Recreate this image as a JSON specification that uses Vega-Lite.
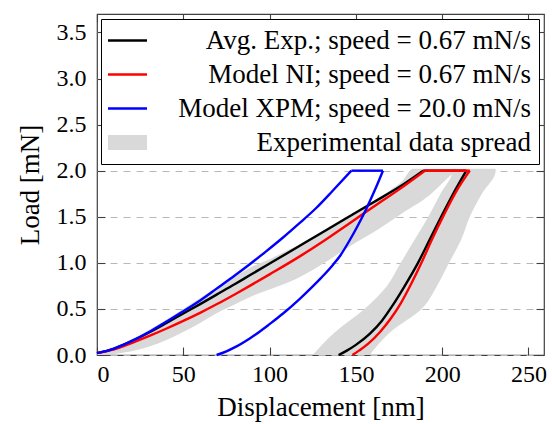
{
  "$schema": "https://vega.github.io/schema/vega-lite/v6.json",
  "width": 447,
  "height": 341,
  "autosize": {"type": "none"},
  "padding": {"left": 97, "top": 14, "right": 8, "bottom": 69},
  "background": "#ffffff",
  "datasets": {
    "lines": [
      {"s": "Avg. Exp.; speed = 0.67 mN/s", "seg": "load", "x": 0, "y": 0.02},
      {"s": "Avg. Exp.; speed = 0.67 mN/s", "seg": "load", "x": 10, "y": 0.07},
      {"s": "Avg. Exp.; speed = 0.67 mN/s", "seg": "load", "x": 20, "y": 0.15},
      {"s": "Avg. Exp.; speed = 0.67 mN/s", "seg": "load", "x": 30.7, "y": 0.25},
      {"s": "Avg. Exp.; speed = 0.67 mN/s", "seg": "load", "x": 40, "y": 0.345},
      {"s": "Avg. Exp.; speed = 0.67 mN/s", "seg": "load", "x": 50, "y": 0.45},
      {"s": "Avg. Exp.; speed = 0.67 mN/s", "seg": "load", "x": 60, "y": 0.555},
      {"s": "Avg. Exp.; speed = 0.67 mN/s", "seg": "load", "x": 69.3, "y": 0.655},
      {"s": "Avg. Exp.; speed = 0.67 mN/s", "seg": "load", "x": 80, "y": 0.77},
      {"s": "Avg. Exp.; speed = 0.67 mN/s", "seg": "load", "x": 88.5, "y": 0.865},
      {"s": "Avg. Exp.; speed = 0.67 mN/s", "seg": "load", "x": 103, "y": 1.025},
      {"s": "Avg. Exp.; speed = 0.67 mN/s", "seg": "load", "x": 117.5, "y": 1.185},
      {"s": "Avg. Exp.; speed = 0.67 mN/s", "seg": "load", "x": 132, "y": 1.345},
      {"s": "Avg. Exp.; speed = 0.67 mN/s", "seg": "load", "x": 146.4, "y": 1.505},
      {"s": "Avg. Exp.; speed = 0.67 mN/s", "seg": "load", "x": 160, "y": 1.655},
      {"s": "Avg. Exp.; speed = 0.67 mN/s", "seg": "load", "x": 175.3, "y": 1.825},
      {"s": "Avg. Exp.; speed = 0.67 mN/s", "seg": "load", "x": 189, "y": 2.0},
      {"s": "Avg. Exp.; speed = 0.67 mN/s", "seg": "top", "x": 189, "y": 2.0},
      {"s": "Avg. Exp.; speed = 0.67 mN/s", "seg": "top", "x": 214, "y": 2.0},
      {"s": "Avg. Exp.; speed = 0.67 mN/s", "seg": "unload", "x": 214, "y": 2.0},
      {"s": "Avg. Exp.; speed = 0.67 mN/s", "seg": "unload", "x": 207, "y": 1.77},
      {"s": "Avg. Exp.; speed = 0.67 mN/s", "seg": "unload", "x": 200, "y": 1.52},
      {"s": "Avg. Exp.; speed = 0.67 mN/s", "seg": "unload", "x": 193, "y": 1.26},
      {"s": "Avg. Exp.; speed = 0.67 mN/s", "seg": "unload", "x": 186, "y": 1.0},
      {"s": "Avg. Exp.; speed = 0.67 mN/s", "seg": "unload", "x": 178, "y": 0.74},
      {"s": "Avg. Exp.; speed = 0.67 mN/s", "seg": "unload", "x": 171, "y": 0.53},
      {"s": "Avg. Exp.; speed = 0.67 mN/s", "seg": "unload", "x": 165, "y": 0.37},
      {"s": "Avg. Exp.; speed = 0.67 mN/s", "seg": "unload", "x": 158, "y": 0.23},
      {"s": "Avg. Exp.; speed = 0.67 mN/s", "seg": "unload", "x": 150, "y": 0.11},
      {"s": "Avg. Exp.; speed = 0.67 mN/s", "seg": "unload", "x": 145, "y": 0.05},
      {"s": "Avg. Exp.; speed = 0.67 mN/s", "seg": "unload", "x": 140, "y": 0.0},
      {"s": "Model NI; speed = 0.67 mN/s", "seg": "load", "x": 0, "y": 0.02},
      {"s": "Model NI; speed = 0.67 mN/s", "seg": "load", "x": 10, "y": 0.06},
      {"s": "Model NI; speed = 0.67 mN/s", "seg": "load", "x": 20, "y": 0.13},
      {"s": "Model NI; speed = 0.67 mN/s", "seg": "load", "x": 30.7, "y": 0.21},
      {"s": "Model NI; speed = 0.67 mN/s", "seg": "load", "x": 40, "y": 0.285},
      {"s": "Model NI; speed = 0.67 mN/s", "seg": "load", "x": 50, "y": 0.37},
      {"s": "Model NI; speed = 0.67 mN/s", "seg": "load", "x": 60, "y": 0.46},
      {"s": "Model NI; speed = 0.67 mN/s", "seg": "load", "x": 69.3, "y": 0.55},
      {"s": "Model NI; speed = 0.67 mN/s", "seg": "load", "x": 80, "y": 0.66},
      {"s": "Model NI; speed = 0.67 mN/s", "seg": "load", "x": 88.5, "y": 0.75},
      {"s": "Model NI; speed = 0.67 mN/s", "seg": "load", "x": 100, "y": 0.875},
      {"s": "Model NI; speed = 0.67 mN/s", "seg": "load", "x": 117.5, "y": 1.07},
      {"s": "Model NI; speed = 0.67 mN/s", "seg": "load", "x": 132, "y": 1.245},
      {"s": "Model NI; speed = 0.67 mN/s", "seg": "load", "x": 146.4, "y": 1.43},
      {"s": "Model NI; speed = 0.67 mN/s", "seg": "load", "x": 160, "y": 1.605},
      {"s": "Model NI; speed = 0.67 mN/s", "seg": "load", "x": 175.3, "y": 1.8},
      {"s": "Model NI; speed = 0.67 mN/s", "seg": "load", "x": 190, "y": 2.0},
      {"s": "Model NI; speed = 0.67 mN/s", "seg": "top", "x": 190, "y": 2.0},
      {"s": "Model NI; speed = 0.67 mN/s", "seg": "top", "x": 216, "y": 2.0},
      {"s": "Model NI; speed = 0.67 mN/s", "seg": "unload", "x": 216, "y": 2.0},
      {"s": "Model NI; speed = 0.67 mN/s", "seg": "unload", "x": 208, "y": 1.77},
      {"s": "Model NI; speed = 0.67 mN/s", "seg": "unload", "x": 201, "y": 1.52},
      {"s": "Model NI; speed = 0.67 mN/s", "seg": "unload", "x": 194, "y": 1.25},
      {"s": "Model NI; speed = 0.67 mN/s", "seg": "unload", "x": 188, "y": 1.0},
      {"s": "Model NI; speed = 0.67 mN/s", "seg": "unload", "x": 182, "y": 0.77},
      {"s": "Model NI; speed = 0.67 mN/s", "seg": "unload", "x": 176, "y": 0.56},
      {"s": "Model NI; speed = 0.67 mN/s", "seg": "unload", "x": 170, "y": 0.39},
      {"s": "Model NI; speed = 0.67 mN/s", "seg": "unload", "x": 164, "y": 0.25},
      {"s": "Model NI; speed = 0.67 mN/s", "seg": "unload", "x": 157, "y": 0.12},
      {"s": "Model NI; speed = 0.67 mN/s", "seg": "unload", "x": 152, "y": 0.05},
      {"s": "Model NI; speed = 0.67 mN/s", "seg": "unload", "x": 148, "y": 0.0},
      {"s": "Model XPM; speed = 20.0 mN/s", "seg": "load", "x": 0, "y": 0.02},
      {"s": "Model XPM; speed = 20.0 mN/s", "seg": "load", "x": 10, "y": 0.07},
      {"s": "Model XPM; speed = 20.0 mN/s", "seg": "load", "x": 20, "y": 0.15},
      {"s": "Model XPM; speed = 20.0 mN/s", "seg": "load", "x": 30.7, "y": 0.255},
      {"s": "Model XPM; speed = 20.0 mN/s", "seg": "load", "x": 40, "y": 0.36},
      {"s": "Model XPM; speed = 20.0 mN/s", "seg": "load", "x": 50, "y": 0.475},
      {"s": "Model XPM; speed = 20.0 mN/s", "seg": "load", "x": 60, "y": 0.595},
      {"s": "Model XPM; speed = 20.0 mN/s", "seg": "load", "x": 69.3, "y": 0.72},
      {"s": "Model XPM; speed = 20.0 mN/s", "seg": "load", "x": 80, "y": 0.865},
      {"s": "Model XPM; speed = 20.0 mN/s", "seg": "load", "x": 88.5, "y": 0.985},
      {"s": "Model XPM; speed = 20.0 mN/s", "seg": "load", "x": 98, "y": 1.125},
      {"s": "Model XPM; speed = 20.0 mN/s", "seg": "load", "x": 107.8, "y": 1.275},
      {"s": "Model XPM; speed = 20.0 mN/s", "seg": "load", "x": 117, "y": 1.425},
      {"s": "Model XPM; speed = 20.0 mN/s", "seg": "load", "x": 127, "y": 1.595},
      {"s": "Model XPM; speed = 20.0 mN/s", "seg": "load", "x": 136.7, "y": 1.785},
      {"s": "Model XPM; speed = 20.0 mN/s", "seg": "load", "x": 147.4, "y": 2.0},
      {"s": "Model XPM; speed = 20.0 mN/s", "seg": "top", "x": 147.4, "y": 2.0},
      {"s": "Model XPM; speed = 20.0 mN/s", "seg": "top", "x": 165.7, "y": 2.0},
      {"s": "Model XPM; speed = 20.0 mN/s", "seg": "unload", "x": 165.7, "y": 2.0},
      {"s": "Model XPM; speed = 20.0 mN/s", "seg": "unload", "x": 161, "y": 1.79},
      {"s": "Model XPM; speed = 20.0 mN/s", "seg": "unload", "x": 156, "y": 1.585},
      {"s": "Model XPM; speed = 20.0 mN/s", "seg": "unload", "x": 151, "y": 1.4},
      {"s": "Model XPM; speed = 20.0 mN/s", "seg": "unload", "x": 146.4, "y": 1.245},
      {"s": "Model XPM; speed = 20.0 mN/s", "seg": "unload", "x": 141, "y": 1.08},
      {"s": "Model XPM; speed = 20.0 mN/s", "seg": "unload", "x": 136.8, "y": 0.98},
      {"s": "Model XPM; speed = 20.0 mN/s", "seg": "unload", "x": 130, "y": 0.84},
      {"s": "Model XPM; speed = 20.0 mN/s", "seg": "unload", "x": 125, "y": 0.745},
      {"s": "Model XPM; speed = 20.0 mN/s", "seg": "unload", "x": 117.5, "y": 0.61},
      {"s": "Model XPM; speed = 20.0 mN/s", "seg": "unload", "x": 107.8, "y": 0.45},
      {"s": "Model XPM; speed = 20.0 mN/s", "seg": "unload", "x": 100, "y": 0.335},
      {"s": "Model XPM; speed = 20.0 mN/s", "seg": "unload", "x": 94, "y": 0.25},
      {"s": "Model XPM; speed = 20.0 mN/s", "seg": "unload", "x": 88.5, "y": 0.18},
      {"s": "Model XPM; speed = 20.0 mN/s", "seg": "unload", "x": 80, "y": 0.085},
      {"s": "Model XPM; speed = 20.0 mN/s", "seg": "unload", "x": 75, "y": 0.04},
      {"s": "Model XPM; speed = 20.0 mN/s", "seg": "unload", "x": 69.3, "y": 0.0}
    ],
    "loadband": [
      {"x": 0, "lo": 0.0, "hi": 0.03},
      {"x": 10, "lo": 0.01, "hi": 0.09},
      {"x": 20, "lo": 0.04, "hi": 0.17},
      {"x": 30, "lo": 0.09, "hi": 0.27},
      {"x": 40, "lo": 0.16, "hi": 0.38},
      {"x": 50, "lo": 0.25, "hi": 0.5},
      {"x": 60, "lo": 0.35, "hi": 0.62},
      {"x": 69, "lo": 0.45, "hi": 0.73},
      {"x": 80, "lo": 0.55, "hi": 0.85},
      {"x": 90, "lo": 0.64, "hi": 0.96},
      {"x": 100, "lo": 0.71, "hi": 1.04},
      {"x": 110, "lo": 0.78, "hi": 1.13},
      {"x": 120, "lo": 0.87, "hi": 1.23},
      {"x": 130, "lo": 0.98, "hi": 1.34},
      {"x": 140, "lo": 1.1, "hi": 1.45},
      {"x": 150, "lo": 1.22, "hi": 1.56},
      {"x": 160, "lo": 1.33, "hi": 1.67},
      {"x": 170, "lo": 1.45, "hi": 1.79},
      {"x": 177, "lo": 1.54, "hi": 1.89},
      {"x": 183, "lo": 1.61, "hi": 2.02},
      {"x": 193, "lo": 1.74, "hi": 2.02},
      {"x": 202, "lo": 1.9, "hi": 2.02},
      {"x": 208, "lo": 2.0, "hi": 2.02}
    ],
    "unloadband": [
      {"y": 0.0, "xlo": 125, "xhi": 158},
      {"y": 0.25, "xlo": 138, "xhi": 170},
      {"y": 0.5, "xlo": 155, "xhi": 188},
      {"y": 0.75, "xlo": 168, "xhi": 197},
      {"y": 1.0, "xlo": 176, "xhi": 204},
      {"y": 1.25, "xlo": 184, "xhi": 211},
      {"y": 1.5, "xlo": 192, "xhi": 216},
      {"y": 1.75, "xlo": 199, "xhi": 223},
      {"y": 2.0, "xlo": 206, "xhi": 231},
      {"y": 2.02, "xlo": 206, "xhi": 231}
    ]
  },
  "layer": [
    {
      "data": {"name": "loadband"},
      "mark": {"type": "area", "interpolate": "monotone", "opacity": 1},
      "encoding": {
        "x": {"field": "x", "type": "quantitative", "scale": {"domain": [0, 259], "nice": false, "zero": false},
              "axis": {"orient": "bottom", "values": [0, 50, 100, 150, 200, 250], "title": "Displacement [nm]", "labelPadding": 15, "titlePadding": 8}},
        "y": {"field": "lo", "type": "quantitative", "scale": {"domain": [0, 3.7], "nice": false, "zero": false},
              "axis": {"orient": "left", "values": [0, 0.5, 1, 1.5, 2, 2.5, 3, 3.5], "format": ".1f", "title": "Load [mN]", "grid": true, "gridDash": [7, 6], "gridColor": "#b8b8b8", "gridWidth": 1, "labelPadding": 19, "titlePadding": 12}},
        "y2": {"field": "hi"},
        "color": {"datum": "Experimental data spread", "type": "nominal",
                  "scale": {"domain": ["Avg. Exp.; speed = 0.67 mN/s", "Model NI; speed = 0.67 mN/s", "Model XPM; speed = 20.0 mN/s", "Experimental data spread"], "range": ["#000000", "#ff0000", "#0000ff", "#d9d9d9"]},
                  "legend": {"orient": "none", "legendX": 4, "legendY": 5, "title": null, "symbolType": "stroke", "symbolSize": 1521, "symbolStrokeWidth": 2.4, "symbolOffset": 5, "labelFont": "Liberation Serif", "labelFontSize": 27, "labelColor": "#000000", "labelAlign": "right", "labelOffset": 390, "labelLimit": 600, "strokeColor": "#000000", "fillColor": "#ffffff", "padding": 8, "rowPadding": 6,
                             "encode": {"symbols": {"update": {
                               "shape": {"signal": "datum.value === 'Experimental data spread' ? 'M-1,-0.385H1V0.385H-1Z' : 'stroke'"},
                               "fill": {"signal": "datum.value === 'Experimental data spread' ? '#d9d9d9' : 'transparent'"},
                               "strokeWidth": {"signal": "datum.value === 'Experimental data spread' ? 0 : 2.4"}}}}}}
      }
    },
    {
      "data": {"name": "unloadband"},
      "mark": {"type": "area", "orient": "horizontal", "interpolate": "monotone", "opacity": 1},
      "encoding": {
        "y": {"field": "y", "type": "quantitative", "axis": null},
        "x": {"field": "xlo", "type": "quantitative", "axis": null},
        "x2": {"field": "xhi"},
        "color": {"datum": "Experimental data spread", "type": "nominal",
                  "legend": {"orient": "none", "legendX": 4, "legendY": 5, "title": null, "symbolType": "stroke", "symbolSize": 1521, "symbolStrokeWidth": 2.4, "symbolOffset": 5, "labelFont": "Liberation Serif", "labelFontSize": 27, "labelColor": "#000000", "labelAlign": "right", "labelOffset": 390, "labelLimit": 600, "strokeColor": "#000000", "fillColor": "#ffffff", "padding": 8, "rowPadding": 6,
                             "encode": {"symbols": {"update": {
                               "shape": {"signal": "datum.value === 'Experimental data spread' ? 'M-1,-0.385H1V0.385H-1Z' : 'stroke'"},
                               "fill": {"signal": "datum.value === 'Experimental data spread' ? '#d9d9d9' : 'transparent'"},
                               "strokeWidth": {"signal": "datum.value === 'Experimental data spread' ? 0 : 2.4"}}}}}}
      }
    },
    {
      "data": {"name": "lines"},
      "mark": {"type": "line", "strokeWidth": 2.4, "interpolate": "monotone"},
      "encoding": {
        "x": {"field": "x", "type": "quantitative", "axis": {"orient": "top", "values": [0, 50, 100, 150, 200, 250], "labels": false, "title": null}},
        "y": {"field": "y", "type": "quantitative", "axis": {"orient": "right", "values": [0, 0.5, 1, 1.5, 2, 2.5, 3, 3.5], "labels": false, "title": null, "grid": false}},
        "detail": {"field": "seg", "type": "nominal"},
        "color": {"field": "s", "type": "nominal",
                  "legend": {"orient": "none", "legendX": 4, "legendY": 5, "title": null, "symbolType": "stroke", "symbolSize": 1521, "symbolStrokeWidth": 2.4, "symbolOffset": 5, "labelFont": "Liberation Serif", "labelFontSize": 27, "labelColor": "#000000", "labelAlign": "right", "labelOffset": 390, "labelLimit": 600, "strokeColor": "#000000", "fillColor": "#ffffff", "padding": 8, "rowPadding": 6,
                             "encode": {"symbols": {"update": {
                               "shape": {"signal": "datum.value === 'Experimental data spread' ? 'M-1,-0.385H1V0.385H-1Z' : 'stroke'"},
                               "fill": {"signal": "datum.value === 'Experimental data spread' ? '#d9d9d9' : 'transparent'"},
                               "strokeWidth": {"signal": "datum.value === 'Experimental data spread' ? 0 : 2.4"}}}}}}
      }
    }
  ],
  "config": {
    "view": {"stroke": "#404040", "strokeWidth": 1.2},
    "axis": {"labelFont": "Liberation Serif", "labelFontSize": 24, "labelColor": "#000000", "titleFont": "Liberation Serif", "titleFontSize": 27, "titleFontWeight": "normal", "titleColor": "#000000", "tickColor": "#404040", "tickSize": -8, "tickWidth": 1.1, "domain": false, "grid": false}
  }
}
